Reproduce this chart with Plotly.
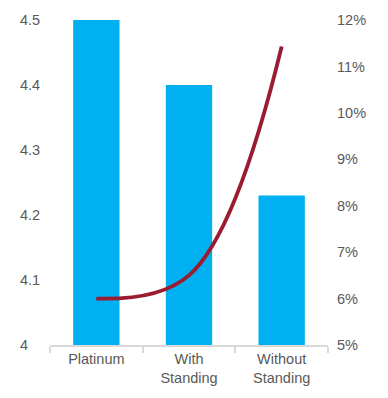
import plotly.graph_objects as go

categories = ["Platinum", "With<br>Standing", "Without<br>Standing"]
bar_values = [4.5, 4.4, 4.23]
line_values = [0.060, 0.065, 0.1143]
left_ticks = [4.0, 4.1, 4.2, 4.3, 4.4, 4.5]
left_tick_labels = ["4", "4.1", "4.2", "4.3", "4.4", "4.5"]
right_ticks = [0.05, 0.06, 0.07, 0.08, 0.09, 0.10, 0.11, 0.12]

font_color = "#595959"
fam = "Liberation Sans, Arial, sans-serif"
fs = 14.5

fig = go.Figure()
fig.add_trace(go.Bar(x=categories, y=bar_values, marker_color="#00B0F0",
                     marker_line_width=0, width=0.5, yaxis="y"))
fig.add_trace(go.Scatter(x=categories, y=line_values, mode="lines",
                         line=dict(color="#9B1B30", width=3.8, shape="spline", smoothing=1.1),
                         yaxis="y2"))

annotations = []
for v, t in zip(left_ticks, left_tick_labels):
    annotations.append(dict(x=-0.115, xref="paper", y=v, yref="y", text=t,
                            showarrow=False, xanchor="left", yanchor="middle",
                            font=dict(size=fs, color=font_color, family=fam)))

fig.update_layout(
    width=388, height=398,
    margin=dict(l=50, r=60, t=16, b=52),
    paper_bgcolor="white", plot_bgcolor="white",
    showlegend=False, bargap=0.5,
    font=dict(family=fam, size=fs, color=font_color),
    xaxis=dict(showline=True, linecolor="#D9D9D9", linewidth=1.5,
               ticks="outside", tickson="boundaries", ticklen=6, tickcolor="#D9D9D9",
               tickwidth=1.5, showgrid=False, tickfont=dict(size=fs, color=font_color)),
    yaxis=dict(range=[4.0, 4.5], tickvals=left_ticks, showticklabels=False,
               showgrid=False, zeroline=False),
    yaxis2=dict(range=[0.05, 0.12], tickvals=right_ticks, tickformat=".0%",
                overlaying="y", side="right", showgrid=False, zeroline=False,
                ticklabelstandoff=8, tickfont=dict(size=fs, color=font_color)),
    annotations=annotations,
)

fig.write_html("out.html")
